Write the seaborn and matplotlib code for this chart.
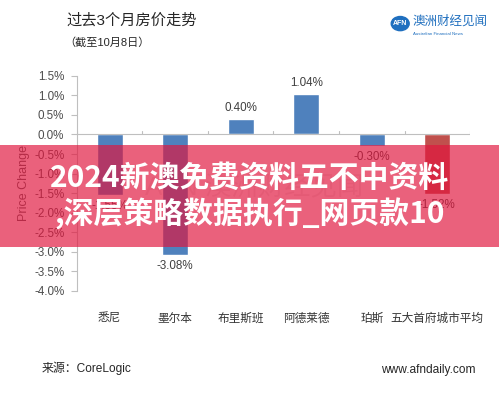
import numpy as np
import pandas as pd
import matplotlib
matplotlib.use('Agg')
import matplotlib.pyplot as plt
from matplotlib.patches import Rectangle, Circle
import seaborn as sns

cities = ['悉尼', '墨尔本', '布里斯班', '阿德莱德', '珀斯', '五大首府城市平均']
changes = [-1.55, -3.08, 0.40, 1.04, -0.30, -1.52]
bar_colors = ['#4F81BD', '#4F81BD', '#4F81BD', '#4F81BD', '#4F81BD', '#C0504D']
yticks = [1.5, 1.0, 0.5, 0.0, -0.5, -1.0, -1.5, -2.0, -2.5, -3.0, -3.5, -4.0]

sns.set_style('white')
plt.rcParams['font.family'] = ['Liberation Sans', 'Noto Sans CJK SC', 'DejaVu Sans']

df = pd.DataFrame({'city': cities, 'change': changes})

fig = plt.figure(figsize=(4.99, 3.93), dpi=100)
ax = fig.add_axes([0.154, 0.260, 0.788, 0.547])

sns.barplot(data=df, x='city', y='change', hue='city', palette=bar_colors,
            legend=False, width=0.4, ax=ax, saturation=1)

ax.set_xlim(-0.5, len(cities) - 0.5)
ax.set_ylim(-4.0, 1.5)
ax.set_yticks(yticks)
ax.set_yticklabels([f'{v:.1f}%' for v in yticks], color='#4D4D4D', fontsize=8.4)
ax.tick_params(axis='y', length=4, color='#BFBFBF', pad=5, left=True)
ax.tick_params(axis='x', length=0, pad=16, labelsize=8.4, labelcolor='#333333')

for s in ['top', 'right', 'bottom']:
    ax.spines[s].set_visible(False)
ax.spines['left'].set_color('#BFBFBF')
ax.spines['left'].set_linewidth(0.8)

# zero line with category separators
ax.axhline(0, color='#BFBFBF', lw=0.8, zorder=1)
for b in np.arange(-0.5, len(cities), 1.0):
    ax.plot([b, b], [0, 0.09], color='#BFBFBF', lw=0.8, zorder=1)

ax.set_xlabel('')
ax.set_ylabel('Price Change', fontsize=9, color='#595959', labelpad=3)

for i, v in enumerate(changes):
    if v >= 0:
        ax.text(i, v + 0.12, f'{v:.2f}%', ha='center', va='bottom', fontsize=8.4, color='#404040')
    else:
        ax.text(i, v - 0.12, f'{v:.2f}%', ha='center', va='top', fontsize=8.4, color='#404040')

# faint watermark
ax.text(2.2, -1.35, 'AFN 澳洲财经见闻', ha='center', va='center', fontsize=19,
        color='#D9D9D9', alpha=0.5, zorder=0)

# titles
fig.text(0.134, 0.948, '过去3个月房价走势', fontsize=11, color='#262626', va='center')
fig.text(0.128, 0.893, '（截至10月8日）', fontsize=8, color='#262626', va='center')

# logo
fig.add_artist(Circle((0.802, 0.94), 0.018, transform=fig.transFigure, color='#1F6FBF',
                      zorder=3))
fig.text(0.802, 0.94, 'AFN', fontsize=5, color='white', ha='center', va='center',
         weight='bold', zorder=4)
fig.text(0.826, 0.946, '澳洲财经见闻', fontsize=9, color='#1F6FBF', va='center')
fig.text(0.827, 0.913, 'Australian Financial News', fontsize=3.2, color='#1F6FBF', va='center')

# footer
fig.text(0.084, 0.064, '来源：CoreLogic', fontsize=8.6, color='#262626', va='center')
fig.text(0.952, 0.058, 'www.afndaily.com', fontsize=8.6, color='#262626', va='center', ha='right')

# overlay banner
fig.add_artist(Rectangle((0, 0.3715), 1, 0.2595, transform=fig.transFigure,
                         facecolor='#E1163E', alpha=0.68, edgecolor='none', zorder=5))
fig.text(0.5, 0.548, '2024新澳免费资料五不中资料', fontsize=21.5, color='white', weight='bold',
         ha='center', va='center', family=['Noto Sans CJK SC', 'DejaVu Sans'], zorder=6)
fig.text(0.5, 0.456, ',深层策略数据执行_网页款10', fontsize=21.5, color='white', weight='bold',
         ha='center', va='center', family=['Noto Sans CJK SC', 'DejaVu Sans'], zorder=6)

fig.savefig('out.png', dpi=100)
